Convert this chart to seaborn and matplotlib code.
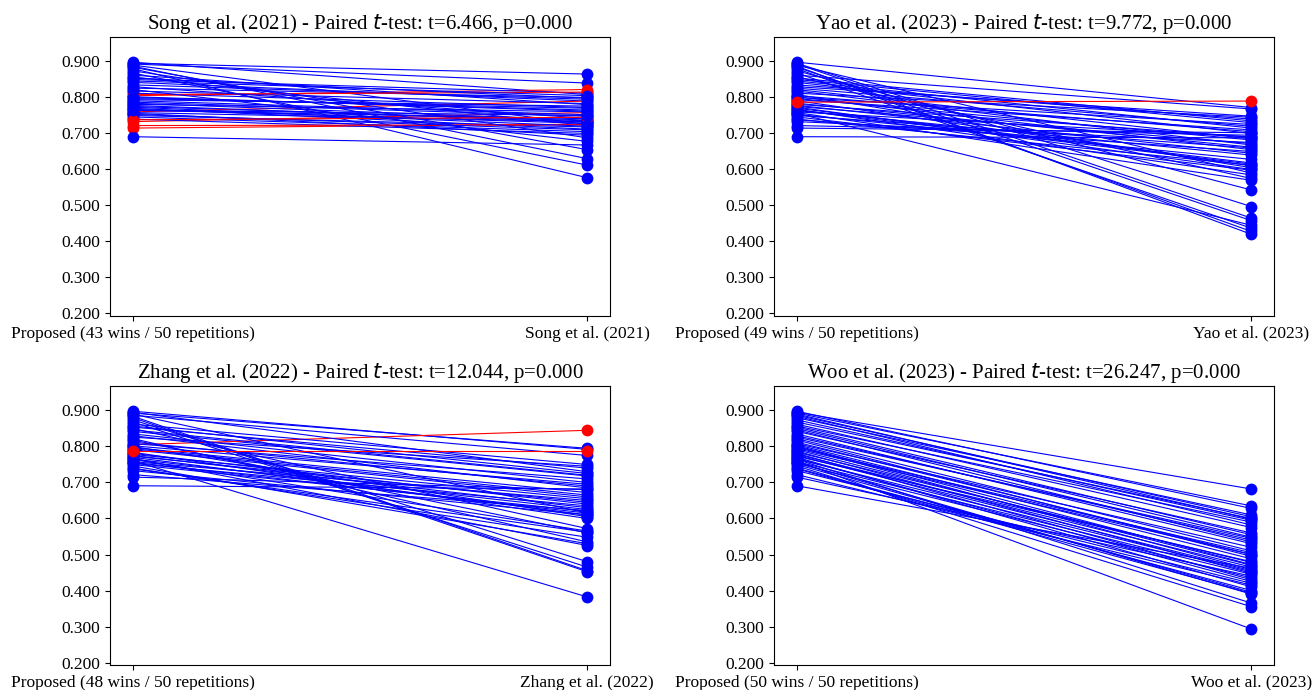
import numpy as np
import pandas as pd
import matplotlib
matplotlib.use("Agg")
import matplotlib.pyplot as plt
import seaborn as sns
from matplotlib.ticker import FormatStrFormatter

plt.rcParams['font.family'] = ['Liberation Serif', 'DejaVu Serif']
plt.rcParams['mathtext.fontset'] = 'dejavusans'

# ---- data (50 repetitions) ----
proposed = [0.842, 0.775, 0.893, 0.760, 0.812, 0.733, 0.868, 0.791, 0.750, 0.826,
            0.898, 0.764, 0.805, 0.715, 0.857, 0.781, 0.746, 0.880, 0.797, 0.770,
            0.835, 0.691, 0.818, 0.756, 0.887, 0.890, 0.802, 0.740, 0.862, 0.778,
            0.850, 0.722, 0.808, 0.767, 0.874, 0.794, 0.753, 0.830, 0.884, 0.784,
            0.758, 0.846, 0.800, 0.738, 0.895, 0.773, 0.822, 0.765, 0.854, 0.787]

song = [0.790, 0.735, 0.840, 0.790, 0.772, 0.758, 0.612, 0.752, 0.718, 0.800,
        0.808, 0.741, 0.822, 0.726, 0.722, 0.760, 0.705, 0.577, 0.770, 0.712,
        0.795, 0.668, 0.783, 0.695, 0.630, 0.725, 0.762, 0.700, 0.780, 0.731,
        0.812, 0.724, 0.815, 0.728, 0.688, 0.776, 0.710, 0.742, 0.655, 0.737,
        0.733, 0.805, 0.765, 0.745, 0.865, 0.720, 0.678, 0.750, 0.798, 0.748]

yao = [0.700, 0.672, 0.465, 0.690, 0.745, 0.675, 0.437, 0.610, 0.660, 0.720,
       0.772, 0.640, 0.705, 0.702, 0.575, 0.690, 0.598, 0.428, 0.682, 0.618,
       0.740, 0.688, 0.668, 0.445, 0.420, 0.590, 0.655, 0.612, 0.768, 0.645,
       0.730, 0.695, 0.605, 0.585, 0.543, 0.710, 0.628, 0.748, 0.458, 0.662,
       0.570, 0.715, 0.725, 0.650, 0.497, 0.600, 0.685, 0.615, 0.735, 0.790]

zhang = [0.718, 0.630, 0.795, 0.382, 0.690, 0.610, 0.465, 0.660, 0.620, 0.745,
         0.792, 0.565, 0.845, 0.680, 0.725, 0.640, 0.530, 0.452, 0.672, 0.610,
         0.700, 0.682, 0.560, 0.615, 0.775, 0.615, 0.695, 0.548, 0.750, 0.655,
         0.572, 0.622, 0.710, 0.525, 0.480, 0.665, 0.635, 0.685, 0.455, 0.600,
         0.650, 0.720, 0.605, 0.562, 0.730, 0.645, 0.535, 0.625, 0.740, 0.787]

woo = [0.560, 0.455, 0.635, 0.293, 0.500, 0.420, 0.600, 0.470, 0.395, 0.545,
       0.628, 0.365, 0.488, 0.440, 0.590, 0.430, 0.355, 0.610, 0.505, 0.410,
       0.530, 0.462, 0.495, 0.390, 0.605, 0.598, 0.472, 0.400, 0.575, 0.465,
       0.548, 0.415, 0.520, 0.425, 0.595, 0.500, 0.435, 0.540, 0.582, 0.478,
       0.445, 0.535, 0.458, 0.392, 0.682, 0.480, 0.510, 0.452, 0.555, 0.448]

method_names = ["Song et al. (2021)", "Yao et al. (2023)", "Zhang et al. (2022)", "Woo et al. (2023)"]
method_values = [song, yao, zhang, woo]
titles = ["Song et al. (2021) - Paired $t$-test: t=6.466, p=0.000",
          "Yao et al. (2023) - Paired $t$-test: t=9.772, p=0.000",
          "Zhang et al. (2022) - Paired $t$-test: t=12.044, p=0.000",
          "Woo et al. (2023) - Paired $t$-test: t=26.247, p=0.000"]
yticks = [0.2, 0.3, 0.4, 0.5, 0.6, 0.7, 0.8, 0.9]

fig, axes = plt.subplots(2, 2, figsize=(13.13, 6.9), dpi=100)
fig.subplots_adjust(left=0.0838, right=0.9703, bottom=0.0362, top=0.9464,
                    wspace=0.328, hspace=0.251)

for ax, name, vals, title in zip(axes.flat, method_names, method_values, titles):
    p = np.array(proposed)
    c = np.array(vals)
    wins = int((p > c).sum())
    rows = []
    colors = {}
    for i in range(len(p)):
        colors[i] = 'blue' if p[i] > c[i] else 'red'
        rows.append({'rep': i, 'x': 0, 'value': p[i]})
        rows.append({'rep': i, 'x': 1, 'value': c[i]})
    df = pd.DataFrame(rows)
    sns.lineplot(data=df, x='x', y='value', estimator=None,
                 hue='rep', palette=colors,
                 marker='o', markersize=8.5, markeredgewidth=0, linewidth=0.8,
                 sort=False, legend=False, ax=ax)
    ax.set_xticks([0, 1])
    ax.set_xticklabels([f"Proposed ({wins} wins / {len(p)} repetitions)", name])
    ax.set_xlim(-0.05, 1.05)
    ax.set_ylim(0.193, 0.968)
    ax.set_yticks(yticks)
    ax.yaxis.set_major_formatter(FormatStrFormatter('%.3f'))
    ax.set_xlabel('')
    ax.set_ylabel('')
    ax.tick_params(labelsize=12.5)
    ax.set_title(title, fontsize=15)

fig.savefig('out.png', dpi=100)
